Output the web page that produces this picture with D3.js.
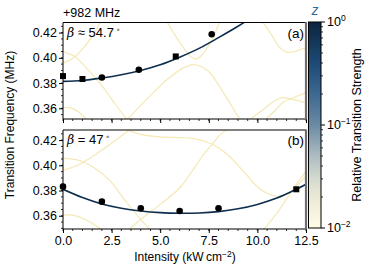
<!DOCTYPE html>
<html><head><meta charset="utf-8">
<script src="https://cdn.jsdelivr.net/npm/d3@7"></script>
<style>body{margin:0;background:#fff}svg{display:block;font-family:"Liberation Sans",Arial,sans-serif}</style>
</head><body><svg id="c" width="374" height="280"></svg>
<script>
// ---- data ----
const xTicks = [0, 2.5, 5, 7.5, 10, 12.5];
const yTicks = [0.36, 0.38, 0.40, 0.42];
const intensityA = [0, 1.0, 2.0, 3.9, 5.8, 7.65];
const freqA = [0.3855, 0.3832, 0.3844, 0.3905, 0.4011, 0.4187];
const markerA = ["square","square","circle","circle","square","circle"];
const intensityB = [0, 2, 4, 6, 8, 12];
const freqB = [0.3831, 0.3712, 0.3660, 0.3638, 0.3660, 0.3810];
const markerB = ["circle","circle","circle","circle","circle","square"];
const fitXA = [0, 1, 2, 3, 4, 5, 6, 7, 8, 9, 9.8];
const fitYA = [0.3813, 0.3820, 0.3840, 0.3866, 0.3900, 0.3945, 0.4005, 0.4075, 0.4160, 0.4250, 0.4330];
const fitXB = [0, 1, 2, 3, 4, 5, 6, 7, 8, 9, 10, 11, 12, 12.5];
const fitYB = [0.3810, 0.3745, 0.3694, 0.3660, 0.3638, 0.3625, 0.3620, 0.3622, 0.3633, 0.3655, 0.3690, 0.3740, 0.3810, 0.3850];
const bgA = [
  [[0,0.3958],[0.5,0.3995],[1.0,0.407],[1.5,0.417],[1.9,0.428]],
  [[0,0.405],[0.6,0.401],[1.2,0.392],[2.0,0.378],[2.7,0.363],[3.3,0.351]],
  [[3.3,0.351],[4.3,0.367],[5.3,0.382],[6.2,0.392],[6.8,0.3945],[7.5,0.389],[8.3,0.371],[9.1,0.351]],
  [[5.3,0.430],[5.8,0.417],[6.2,0.408],[6.5,0.402],[6.8,0.3990],[7.1,0.4015],[7.6,0.4125],[8.1,0.430]],
  [[10.2,0.430],[10.7,0.419],[11.1,0.409],[11.5,0.4045],[11.9,0.405],[12.3,0.407],[12.6,0.408]],
  [[9.6,0.351],[10.3,0.359],[10.9,0.366],[11.3,0.3685],[11.8,0.367],[12.6,0.364]],
  [[10.4,0.351],[10.9,0.358],[11.3,0.3645],[11.8,0.368],[12.6,0.373]],
  [[0,0.3605],[0.4,0.3603],[0.8,0.357],[1.2,0.351]]
];
const bgB = [
  [[0,0.4055],[0.8,0.404],[1.6,0.398],[2.4,0.388],[3.2,0.372],[4.0,0.357],[4.5,0.349]],
  [[0,0.396],[0.8,0.4005],[1.8,0.410],[2.8,0.421],[3.4,0.428]],
  [[3.4,0.349],[4.0,0.357],[5.0,0.369],[6.0,0.382],[6.8,0.399],[7.3,0.410],[7.7,0.417],[8.0,0.423],[8.4,0.428]],
  [[3.3,0.428],[4.0,0.4245],[5.0,0.4225],[6.0,0.422],[6.8,0.421],[7.4,0.4185],[8.0,0.414],[8.5,0.408],[9.3,0.395],[10.0,0.383],[10.6,0.377],[11.1,0.3755],[11.6,0.378],[12.1,0.385],[12.6,0.393]],
  [[10.3,0.349],[11.0,0.362],[11.7,0.378],[12.1,0.387],[12.6,0.397]],
  [[0,0.3605],[0.5,0.3605],[1.0,0.358],[1.5,0.354],[2.0,0.349]]
];
const cbValues = [0.01, 0.02, 0.03, 0.05, 0.1, 0.2, 0.4, 1];
const cbColors = ["#fffce6", "#ebe9d6", "#d5dacf", "#adbcc1", "#6a8ba4", "#3d6890", "#1d4a76", "#0b2440"];
const cbTicks = [1, 0.1, 0.01];
const cbTickLabels = ["0", "\u22121", "\u22122"];

// ---- drawing ----
const svg = d3.select("#c");
const x = d3.scaleLinear([0, 12.5], [63, 306]);
const panels = [
  {id:"a", y: d3.scaleLinear([0.3515, 0.428], [119, 22.5]), top:22.5, bot:119, bg:bgA, fx:fitXA, fy:fitYA, px:intensityA, py:freqA, pm:markerA, label:"(a)", beta:"\u2248 54.7"},
  {id:"b", y: d3.scaleLinear([0.3495, 0.428], [229, 130]), top:130, bot:229, bg:bgB, fx:fitXB, fy:fitYB, px:intensityB, py:freqB, pm:markerB, label:"(b)", beta:"= 47"}
];
const defs = svg.append("defs");
panels.forEach(p => {
  defs.append("clipPath").attr("id","clip"+p.id).append("rect")
    .attr("x",63).attr("y",p.top).attr("width",243).attr("height",p.bot-p.top);
  const g = svg.append("g");
  const inner = g.append("g").attr("clip-path","url(#clip"+p.id+")");
  const line = d3.line().x(d=>x(d[0])).y(d=>p.y(d[1])).curve(d3.curveCatmullRom);
  p.bg.forEach(l => inner.append("path").attr("d", line(l)).attr("fill","none")
    .attr("stroke","#f5e8b3").attr("stroke-width",1.2));
  inner.append("path").attr("d", line(p.fx.map((v,i)=>[v,p.fy[i]]))).attr("fill","none")
    .attr("stroke","#0e2e4e").attr("stroke-width",1.6);
  // y axis
  const ya = d3.axisLeft(p.y).tickValues(yTicks).tickFormat(d3.format(".2f")).tickSize(4).tickPadding(2);
  const yag = g.append("g").attr("transform","translate(63,0)").call(ya);
  yag.select(".domain").remove();
  yag.selectAll("text").attr("font-size",12.5).attr("fill","#000").attr("font-family","Liberation Sans, Arial");
  yag.selectAll("line").attr("stroke","#000");
  const yMinor = d3.range(0.350, 0.4281, 0.005).filter(v => v >= p.y.domain()[0] && v <= p.y.domain()[1]);
  g.selectAll(".ym").data(yMinor).join("line").attr("x1",61).attr("x2",63)
    .attr("y1",d=>p.y(d)).attr("y2",d=>p.y(d)).attr("stroke","#000").attr("stroke-width",0.8);
  // x axis
  const xa = d3.axisBottom(x).tickValues(xTicks).tickSize(4).tickPadding(3)
    .tickFormat(p.id==="b" ? d3.format(".1f") : () => "");
  const xag = g.append("g").attr("transform","translate(0,"+p.bot+")").call(xa);
  xag.select(".domain").remove();
  xag.selectAll("text").attr("font-size",12.5).attr("fill","#000").attr("font-family","Liberation Sans, Arial");
  xag.selectAll("line").attr("stroke","#000");
  g.selectAll(".xm").data(d3.range(0,12.51,0.5)).join("line").attr("x1",d=>x(d)).attr("x2",d=>x(d))
    .attr("y1",p.bot).attr("y2",p.bot+2).attr("stroke","#000").attr("stroke-width",0.8);
  // frame
  g.append("path").attr("d",`M306,${p.top}H63V${p.bot}H306`).attr("fill","none").attr("stroke","#000").attr("stroke-width",1);
  g.append("line").attr("x1",306).attr("x2",306).attr("y1",p.top-0.5).attr("y2",p.bot+0.5)
    .attr("stroke","#6e6e6e").attr("stroke-width",2.2);
  // markers
  p.px.forEach((v,i) => {
    if (p.pm[i]==="square") g.append("rect").attr("x",x(v)-3).attr("y",p.y(p.py[i])-3).attr("width",6).attr("height",6).attr("fill","#000");
    else g.append("circle").attr("cx",x(v)).attr("cy",p.y(p.py[i])).attr("r",3.3).attr("fill","#000");
  });
  // labels
  g.append("text").attr("x",304).attr("y",p.top+15).attr("text-anchor","end").attr("font-size",13.5).text(p.label);
  const bt = g.append("text").attr("x",67).attr("y",p.top+14).attr("font-size",13);
  bt.append("tspan").attr("font-style","italic").attr("font-family","DejaVu Serif, serif").attr("font-size",12.5).text("\u03b2");
  bt.append("tspan").text(" " + p.beta);
  bt.append("tspan").attr("font-size",7).attr("font-family","DejaVu Sans").attr("dy",-5).attr("dx",2).text("\u2218");
});
svg.append("text").attr("x",63).attr("y",17).attr("font-size",12.5).text("+982 MHz");
svg.append("text").attr("transform","translate(14,125) rotate(-90)").attr("text-anchor","middle").attr("font-size",12).text("Transition Frequency (MHz)");
const xl = svg.append("text").attr("x",185).attr("y",261).attr("text-anchor","middle").attr("font-size",12);
xl.append("tspan").text("Intensity (kW\u2009cm");
xl.append("tspan").attr("font-size",8.5).attr("dy",-4).text("\u22122");
xl.append("tspan").attr("dy",4).text(")");

// colorbar
const cb = d3.scaleLog([0.01, 1], [228, 22]);
const grad = defs.append("linearGradient").attr("id","cbg").attr("x1",0).attr("x2",0).attr("y1",1).attr("y2",0);
cbValues.forEach((v,i) => grad.append("stop").attr("offset",(228-cb(v))/206).attr("stop-color",cbColors[i]));
svg.append("rect").attr("x",308.5).attr("y",22).attr("width",12.5).attr("height",206).attr("fill","url(#cbg)").attr("stroke","#000").attr("stroke-width",1);
const minors = [];
[0.01, 0.1].forEach(d => { for (let k=2;k<=9;k++) minors.push(d*k); });
svg.selectAll(".cbm").data(minors).join("line").attr("x1",321).attr("x2",323).attr("y1",d=>cb(d)).attr("y2",d=>cb(d)).attr("stroke","#000").attr("stroke-width",0.8);
cbTicks.forEach((t,i) => {
  svg.append("line").attr("x1",321).attr("x2",325).attr("y1",cb(t)).attr("y2",cb(t)).attr("stroke","#000");
  const tx = svg.append("text").attr("x",327).attr("y",cb(t)+4).attr("font-size",12.5);
  tx.append("tspan").text("10");
  tx.append("tspan").attr("font-size",8.5).attr("dy",-5).text(cbTickLabels[i]);
});
svg.append("text").attr("x",315).attr("y",15).attr("text-anchor","middle").attr("font-size",14).attr("font-style","italic").attr("fill","#2f6aa6").text("z");
svg.append("text").attr("transform","translate(361,125) rotate(-90)").attr("text-anchor","middle").attr("font-size",12.5).text("Relative Transition Strength");
</script></body></html>
